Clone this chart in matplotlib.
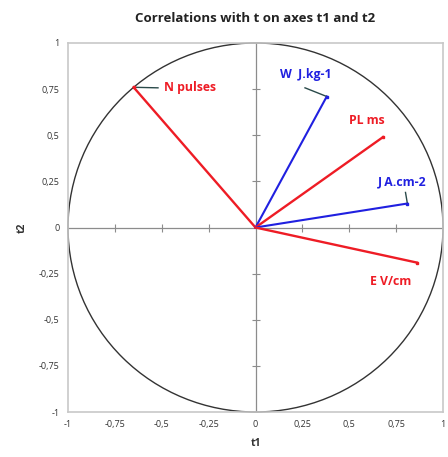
import matplotlib
matplotlib.use("Agg")
import matplotlib.pyplot as plt
from matplotlib.patches import Circle

# Data
variables = ["N pulses", "W  J.kg-1", "PL ms", "J A.cm-2", "E V/cm"]
t1 = [-0.65, 0.38, 0.68, 0.81, 0.86]
t2 = [0.76, 0.71, 0.49, 0.13, -0.19]
colors = ["#ee1c25", "#2020e0", "#ee1c25", "#2020e0", "#ee1c25"]
label_pos = [(-0.49, 0.757), (0.27, 0.83), (0.595, 0.58), (0.78, 0.245), (0.72, -0.29)]
leader_end = [(-0.52, 0.757), (0.264, 0.757), None, (0.80, 0.19), None]
ticks = [-1, -0.75, -0.5, -0.25, 0, 0.25, 0.5, 0.75, 1]
tick_labels = ["-1", "-0,75", "-0,5", "-0,25", "0", "0,25", "0,5", "0,75", "1"]

plt.rcParams['font.family'] = ['Open Sans', 'DejaVu Sans']

fig = plt.figure(figsize=(4.48, 4.57), dpi=100)
ax = fig.add_axes([68/448, 1-412/457, 375/448, 369/457])
ax.set_xlim(-1, 1)
ax.set_ylim(-1, 1)

for s in ax.spines.values():
    s.set_color("#c8c8c8")
    s.set_linewidth(1.2)

ax.set_xticks(ticks)
ax.set_xticklabels(tick_labels)
ax.set_yticks(ticks)
ax.set_yticklabels(tick_labels)
ax.tick_params(length=0, labelsize=6.5, colors="#333333", pad=6)

# zero axes with tick marks
ax.axhline(0, color="#8c8c8c", lw=0.9, zorder=1)
ax.axvline(0, color="#8c8c8c", lw=0.9, zorder=1)
inner = [t for t in ticks if abs(t) < 1 and t != 0]
ax.plot(inner, [0]*len(inner), ls="none", marker="|", ms=6, mew=0.8, color="#8c8c8c", zorder=1)
ax.plot([0]*len(inner), inner, ls="none", marker="_", ms=6, mew=0.8, color="#8c8c8c", zorder=1)

# unit circle
ax.add_patch(Circle((0, 0), 1, fill=False, ec="#333333", lw=1.0, clip_on=False, zorder=2))

for name, x, y, c, lp, le in zip(variables, t1, t2, colors, label_pos, leader_end):
    ax.plot([0, x], [0, y], color=c, lw=1.7 if c.startswith("#ee") else 1.5, zorder=3)
    ax.plot([x], [y], marker="s", ms=2, color=c, zorder=4)
    if le is not None:
        ax.plot([x, le[0]], [y, le[1]], color="#2a4a4a", lw=1.0, zorder=3)
    ax.text(lp[0], lp[1], name, color=c, fontsize=8.8, fontweight="bold",
            ha="left" if name.startswith("N") else "center", va="center", zorder=5)

ax.set_xlabel("t1", fontsize=7.5, fontweight="bold", color="#333333", labelpad=6)
ax.set_ylabel("t2", fontsize=7.5, fontweight="bold", color="#333333", labelpad=8)
fig.text(255.5/448, 1-18/457, "Correlations with t on axes t1 and t2", ha="center", va="center",
         fontsize=9.5, fontweight="bold", color="#222222")

fig.savefig("out.png", dpi=100, facecolor="white")
